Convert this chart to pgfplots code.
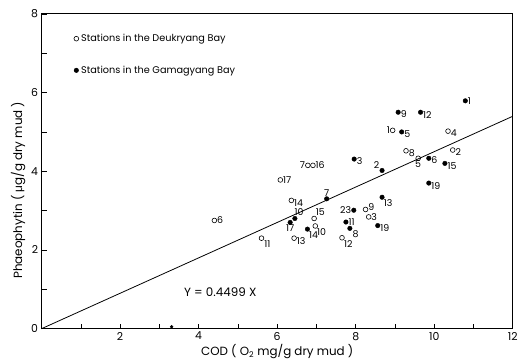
\documentclass[border=0pt]{standalone}
\usepackage{pgfplots}
\pgfplotsset{compat=1.18}
\usepackage{fontspec}
\setmainfont{Poppins}
\newfontfamily\mufont{Liberation Sans}

\pgfplotsset{
  openst/.style={only marks, mark=o, mark size=2.4pt, mark options={line width=0.6pt, black}, black, forget plot},
  fillst/.style={only marks, mark=*, mark size=2.3pt, black, forget plot},
  lab/.style={point meta=explicit symbolic, nodes near coords,
    nodes near coords style={font=\fontsize{9.5}{10}\selectfont, anchor=#1, inner sep=2.5pt, black}},
}

\begin{document}
\begin{tikzpicture}
\begin{axis}[
  scale only axis, width=476pt, height=318pt,
  xmin=0, xmax=12, ymin=0, ymax=8,
  xtick={2,4,...,12}, ytick={0,2,...,8},
  minor xtick={1,3,...,11}, minor ytick={1,3,5,7},
  tick align=inside, tick pos=left,
  major tick length=5pt, minor tick length=5pt,
  axis line style={line width=0.8pt},
  every tick/.style={black, line width=0.7pt},
  /pgf/number format/assume math mode=true,
  ticklabel style={font=\fontsize{11}{13}\selectfont},
  xlabel={COD ( O\textsubscript{2} mg/g dry mud )},
  ylabel={Phaeophytin ( {\mufont μ}g/g dry mud )},
  label style={font=\fontsize{12}{14}\selectfont},
  xlabel style={at={(axis description cs:0.5,-0.072)}, anchor=center},
  ylabel style={at={(axis description cs:-0.050,0.44)}, anchor=center},
  legend style={draw=none, fill=none, at={(axis description cs:0.062,0.95)}, anchor=north west,
    font=\fontsize{9.8}{11}\selectfont, row sep=18pt, legend cell align=left,
    nodes={inner sep=2.5pt}},
  legend image code/.code={\draw[#1] plot coordinates {(0pt,0pt)};},
  clip=false,
]
\addlegendimage{only marks, mark=o, mark size=2.4pt, mark options={line width=0.6pt, black}, black}
\addlegendentry{Stations in the Deukryang Bay}
\addlegendimage{only marks, mark=*, mark size=2.3pt, black}
\addlegendentry{Stations in the Gamagyang Bay}
\addplot[black, line width=0.8pt, forget plot] coordinates {(0,0) (12,5.3988)};
% open circles (Deukryang Bay)
\addplot[openst, lab=0] table[meta=l, row sep=\\] {x y l\\ 8.94 5.04 1\\ 6.78 4.15 7\\};
\addplot[openst, lab=90] table[meta=l, row sep=\\] {x y l\\ 9.59 4.33 5\\};
\addplot[openst, lab=160] table[meta=l, row sep=\\] {x y l\\ 10.35 5.02 4\\ 9.28 4.52 8\\ 10.47 4.54 2\\ 6.36 3.26 14\\ 6.43 2.30 13\\};
\addplot[openst, lab=180] table[meta=l, row sep=\\] {x y l\\ 6.91 4.15 16\\ 6.08 3.78 17\\ 4.40 2.75 6\\ 8.33 2.84 3\\};
\addplot[openst, lab=225] table[meta=l, row sep=\\] {x y l\\ 6.94 2.80 15\\};
\addplot[openst, lab=135] table[meta=l, row sep=\\] {x y l\\ 5.60 2.30 11\\ 7.65 2.31 12\\ 6.97 2.61 10\\};
\addplot[openst, lab=200] table[meta=l, row sep=\\] {x y l\\ 8.25 3.03 9\\};
% filled circles (Gamagyang Bay)
\addplot[fillst, lab=180] table[meta=l, row sep=\\] {x y l\\ 10.79 5.79 1\\ 7.75 2.71 11\\};
\addplot[fillst, lab=160] table[meta=l, row sep=\\] {x y l\\ 9.08 5.50 9\\ 9.65 5.50 12\\ 9.17 5.00 5\\ 7.96 4.31 3\\ 9.86 4.33 6\\ 10.27 4.20 15\\ 9.86 3.70 19\\ 8.56 2.62 19\\};
\addplot[fillst, lab=315] table[meta=l, row sep=\\] {x y l\\ 8.67 4.02 2\\};
\addplot[fillst, lab=270] table[meta=l, row sep=\\] {x y l\\ 7.26 3.30 7\\};
\addplot[fillst, lab=135] table[meta=l, row sep=\\] {x y l\\ 8.67 3.34 13\\ 7.85 2.55 8\\ 6.77 2.53 14\\};
\addplot[fillst, lab=0] table[meta=l, row sep=\\] {x y l\\ 7.95 3.01 23\\};
\addplot[fillst, lab=235] table[meta=l, row sep=\\] {x y l\\ 6.45 2.80 10\\};
\addplot[fillst, lab=90] table[meta=l, row sep=\\] {x y l\\ 6.33 2.70 17\\};
\addplot[only marks, mark=*, mark size=1.5pt, black, forget plot] coordinates {(3.31,0.05)};
\node[font=\fontsize{12}{14}\selectfont] at (axis cs:4.55,0.93) {Y = 0.4499 X};
\end{axis}
\path ([xshift=-42pt,yshift=-33pt]current axis.south west) rectangle ([xshift=3pt,yshift=14pt]current axis.north east);
\end{tikzpicture}
\end{document}
